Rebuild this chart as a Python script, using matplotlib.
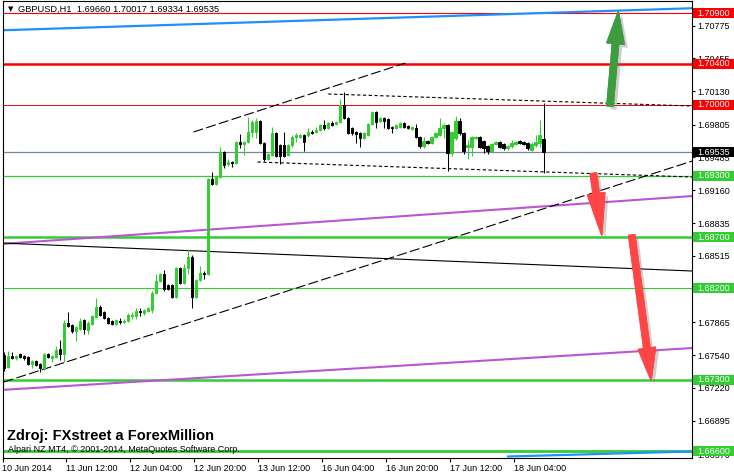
import matplotlib
matplotlib.use("Agg")
import matplotlib.pyplot as plt
import matplotlib.patheffects as pe
from matplotlib.patches import FancyArrowPatch, Rectangle
from matplotlib.transforms import blended_transform_factory
import numpy as np

plt.rcParams['font.family'] = ['Liberation Sans', 'DejaVu Sans']

# GBPUSD H1 candles, 10 Jun 20:00 .. 18 Jun 11:00
opens = [
    1.6754, 1.6742, 1.6753, 1.6751, 1.6755, 1.6753, 1.6752, 1.6745, 1.6748, 1.6745,
    1.6741, 1.6755, 1.6751, 1.6752, 1.6760, 1.6755, 1.6786, 1.6784, 1.6778, 1.6780,
    1.6789, 1.6779, 1.6785, 1.6792, 1.6801, 1.6796, 1.6791, 1.6788, 1.6785, 1.6788,
    1.6787, 1.6788, 1.6793, 1.6793, 1.6797, 1.6795, 1.6797, 1.6798, 1.6815, 1.6827,
    1.6834, 1.6823, 1.6823, 1.6811, 1.6840, 1.6825, 1.6840, 1.6850, 1.6811, 1.6828,
    1.6835, 1.6834, 1.6927, 1.6922, 1.6929, 1.6954, 1.6942, 1.6944, 1.6943, 1.6963,
    1.6961, 1.6963, 1.6973, 1.6973, 1.6984, 1.6962, 1.6947, 1.6951, 1.6972, 1.6960,
    1.6960, 1.6951, 1.6960, 1.6968, 1.6968, 1.6970, 1.6970, 1.6973, 1.6973, 1.6975,
    1.6980, 1.6977, 1.6982, 1.6981, 1.6983, 1.7000, 1.6987, 1.6977, 1.6973, 1.6972,
    1.6967, 1.6970, 1.6981, 1.6993, 1.6984, 1.6987, 1.6986, 1.6978, 1.6977, 1.6978,
    1.6982, 1.6979, 1.6976, 1.6977, 1.6968, 1.6959, 1.6964, 1.6962, 1.6968, 1.6970,
    1.6977, 1.6980, 1.6953, 1.6967, 1.6984, 1.6972, 1.6958, 1.6958, 1.6967, 1.6968,
    1.6964, 1.6959, 1.6955, 1.6961, 1.6963, 1.6961, 1.6957, 1.6959, 1.6961, 1.6964,
    1.6963, 1.6962, 1.6956, 1.6960, 1.6962, 1.69660,
]
highs = [
    1.6757, 1.6758, 1.6757, 1.6754, 1.6756, 1.6754, 1.6753, 1.6749, 1.6749, 1.6746,
    1.6756, 1.6756, 1.6754, 1.6763, 1.6769, 1.6789, 1.6796, 1.6785, 1.6783, 1.6791,
    1.6790, 1.6788, 1.6794, 1.6810, 1.6803, 1.6797, 1.6792, 1.6789, 1.6790, 1.6791,
    1.6790, 1.6795, 1.6796, 1.6800, 1.6800, 1.6799, 1.6801, 1.6817, 1.6834, 1.6835,
    1.6838, 1.6824, 1.6824, 1.6841, 1.6841, 1.6844, 1.6858, 1.6852, 1.6829, 1.6842,
    1.6837, 1.6928, 1.6934, 1.6931, 1.6958, 1.6955, 1.6947, 1.6945, 1.6964, 1.6971,
    1.6964, 1.6988, 1.6985, 1.6987, 1.6985, 1.6963, 1.6953, 1.6978, 1.6973, 1.6961,
    1.6973, 1.6961, 1.6970, 1.6972, 1.6971, 1.6971, 1.6977, 1.6975, 1.6978, 1.6981,
    1.6985, 1.6983, 1.6984, 1.6984, 1.7006, 1.7012, 1.6988, 1.6978, 1.6974, 1.6973,
    1.6973, 1.6982, 1.6994, 1.6994, 1.6988, 1.6988, 1.6987, 1.6979, 1.6981, 1.6983,
    1.6983, 1.6980, 1.6979, 1.6981, 1.6969, 1.6968, 1.6965, 1.6969, 1.6973, 1.6987,
    1.6982, 1.6981, 1.6974, 1.6989, 1.6987, 1.6973, 1.6965, 1.6969, 1.6969, 1.6969,
    1.6965, 1.6960, 1.6962, 1.6964, 1.6964, 1.6962, 1.6960, 1.6965, 1.6964, 1.6965,
    1.6964, 1.6963, 1.6963, 1.6970, 1.6985, 1.70017,
]
lows = [
    1.6739, 1.6741, 1.6750, 1.6749, 1.6751, 1.6749, 1.6744, 1.6741, 1.6743, 1.6738,
    1.6740, 1.6751, 1.6747, 1.6751, 1.6749, 1.6747, 1.6782, 1.6776, 1.6768, 1.6779,
    1.6775, 1.6775, 1.6784, 1.6791, 1.6793, 1.6790, 1.6785, 1.6784, 1.6784, 1.6785,
    1.6786, 1.6787, 1.6790, 1.6790, 1.6793, 1.6794, 1.6796, 1.6795, 1.6814, 1.6826,
    1.6817, 1.6818, 1.6810, 1.6810, 1.6824, 1.6824, 1.6834, 1.6800, 1.6810, 1.6827,
    1.6829, 1.6833, 1.6921, 1.6921, 1.6928, 1.6938, 1.6940, 1.6939, 1.6942, 1.6957,
    1.6951, 1.6962, 1.6968, 1.6967, 1.6961, 1.6945, 1.6946, 1.6950, 1.6949, 1.6942,
    1.6949, 1.6950, 1.6958, 1.6963, 1.6967, 1.6955, 1.6968, 1.6971, 1.6972, 1.6974,
    1.6975, 1.6976, 1.6979, 1.6980, 1.6982, 1.6986, 1.6971, 1.6970, 1.6962, 1.6958,
    1.6966, 1.6969, 1.6980, 1.6977, 1.6983, 1.6977, 1.6976, 1.6972, 1.6976, 1.6977,
    1.6977, 1.6976, 1.6975, 1.6967, 1.6957, 1.6957, 1.6961, 1.6961, 1.6967, 1.6969,
    1.6967, 1.6935, 1.6950, 1.6965, 1.6970, 1.6952, 1.6947, 1.6950, 1.6966, 1.6957,
    1.6953, 1.6952, 1.6954, 1.6960, 1.6957, 1.6956, 1.6956, 1.6957, 1.6960, 1.6961,
    1.6960, 1.6956, 1.6955, 1.6958, 1.6958, 1.69334,
]
closes = [
    1.6741, 1.6753, 1.6751, 1.6753, 1.6752, 1.6751, 1.6745, 1.6748, 1.6744, 1.6741,
    1.6755, 1.6752, 1.6753, 1.6759, 1.6755, 1.6786, 1.6783, 1.6778, 1.6782, 1.6788,
    1.6780, 1.6786, 1.6793, 1.6801, 1.6794, 1.6791, 1.6786, 1.6785, 1.6789, 1.6787,
    1.6788, 1.6794, 1.6794, 1.6797, 1.6796, 1.6798, 1.6800, 1.6815, 1.6827, 1.6834,
    1.6819, 1.6819, 1.6811, 1.6840, 1.6825, 1.6840, 1.6850, 1.6811, 1.6828, 1.6835,
    1.6834, 1.6927, 1.6922, 1.6930, 1.6954, 1.6941, 1.6944, 1.6943, 1.6963, 1.6961,
    1.6963, 1.6973, 1.6983, 1.6984, 1.6962, 1.6947, 1.6952, 1.6972, 1.6950, 1.6950,
    1.6950, 1.6960, 1.6968, 1.6970, 1.6970, 1.6963, 1.6973, 1.6972, 1.6975, 1.6980,
    1.6977, 1.6982, 1.6980, 1.6983, 1.7000, 1.6987, 1.6972, 1.6972, 1.6971, 1.6967,
    1.6972, 1.6981, 1.6993, 1.6983, 1.6987, 1.6984, 1.6977, 1.6977, 1.6980, 1.6982,
    1.6978, 1.6977, 1.6978, 1.6968, 1.6959, 1.6964, 1.6962, 1.6968, 1.6972, 1.6977,
    1.6980, 1.6953, 1.6973, 1.6984, 1.6972, 1.6955, 1.6960, 1.6968, 1.6968, 1.6958,
    1.6957, 1.6955, 1.6961, 1.6963, 1.6958, 1.6957, 1.6959, 1.6962, 1.6963, 1.6962,
    1.6961, 1.6957, 1.6961, 1.6963, 1.6970, 1.69535,
]

time_labels = ["10 Jun 2014", "11 Jun 12:00", "12 Jun 04:00", "12 Jun 20:00",
               "13 Jun 12:00", "16 Jun 04:00", "16 Jun 20:00", "17 Jun 12:00",
               "18 Jun 04:00"]
label_step = 16  # bars between time labels

price_ticks = [1.70775, 1.70455, 1.70130, 1.69805, 1.69485, 1.69160, 1.68835,
               1.68515, 1.68190, 1.67865, 1.67540, 1.67220, 1.66895, 1.66570]

red_levels = [1.70900, 1.70400, 1.70000]
green_levels = [1.69300, 1.68700, 1.68200, 1.67300, 1.66600]
bid = 1.69535

# trend lines: (bar indices, prices)
blue_top = ([-0.9, 172.2], [1.70730, 1.70947])
blue_bottom = ([126.1, 172.2], [1.66546, 1.66596])
purple_top = ([-0.9, 172.2], [1.68632, 1.69103])
purple_bottom = ([-0.9, 172.2], [1.67199, 1.67611])
black_line = ([-0.9, 172.2], [1.68642, 1.68367])
channel_low = ([-0.1, 172.2], [1.67277, 1.69447])
channel_high = ([47.4, 100.4], [1.69732, 1.70409])
range_high = ([81.1, 172.2], [1.70105, 1.69987])
range_low = ([63.4, 172.2], [1.69437, 1.69290])

# arrows: tail (bar, price), head (bar, price)
arrow_up = ((151.6, 1.69987), (153.7, 1.70913))
arrow_down1 = ((147.45, 1.69326), (149.55, 1.68720))
arrow_down2 = ((157.05, 1.68720), (161.9, 1.67297))

W, H = 734, 475
LIME = '#32CD32'
fig = plt.figure(figsize=(W / 100, H / 100), dpi=100)
ax = fig.add_axes([2.5 / W, 17 / H, 689.5 / W, 457 / H])
ax.set_xlim(-0.25, 172.125)
ax.set_ylim(1.665313, 1.71018)

# levels
for lv, lw in zip(red_levels, [0.8, 1.8, 0.7]):
    ax.axhline(lv, color='red', lw=lw, zorder=2)
for lv, lw in zip(green_levels, [0.9, 1.8, 0.8, 1.8, 2.0]):
    ax.axhline(lv, color=LIME, lw=lw, zorder=2)
ax.axhline(bid, color='#778899', lw=0.9, zorder=2)

ax.plot(*blue_top, color='#1E90FF', lw=1.6, zorder=2)
ax.plot(*blue_bottom, color='#1E90FF', lw=1.6, zorder=2)
ax.plot(*purple_top, color='#BA55D3', lw=1.5, zorder=2)
ax.plot(*purple_bottom, color='#BA55D3', lw=1.5, zorder=2)
ax.plot(*black_line, color='black', lw=0.8, zorder=2)
for ln in (channel_low, channel_high):
    ax.plot(*ln, color='black', lw=0.8, dashes=(9, 3), zorder=2)
for ln in (range_high, range_low):
    ax.plot(*ln, color='black', lw=0.8, dashes=(3, 2.2), zorder=2)

# candles
o, h, l, c = (np.array(a) for a in (opens, highs, lows, closes))
x = np.arange(len(o))
col = np.where(c >= o, LIME, 'black')
ax.vlines(x, l, h, colors=col, lw=0.75, zorder=3)
ax.bar(x, np.abs(c - o), bottom=np.minimum(o, c), width=0.62,
       color=col, edgecolor=col, lw=0.7, zorder=4)

# arrows
for (tail, head), colr, hl in [(arrow_up, '#3E9B3E', 23),
                               (arrow_down1, '#FF4545', 30),
                               (arrow_down2, '#FF4545', 23)]:
    ar = FancyArrowPatch(tail, head,
                         arrowstyle=f"simple,head_length={hl},head_width=12.5,tail_width=4.5",
                         color=colr, shrinkA=0, shrinkB=0, zorder=6,
                         path_effects=[pe.withSimplePatchShadow(offset=(2.5, -2.5),
                                                                shadow_rgbFace='0.45',
                                                                alpha=0.35),
                                       pe.Normal()])
    ax.add_patch(ar)

# axes
for s in ax.spines.values():
    s.set_linewidth(0.8)
ax.yaxis.tick_right()
ax.set_yticks(price_ticks)
ax.set_yticklabels([f"{v:.5f}" for v in price_ticks], fontsize=6.5)
ax.tick_params(axis='y', length=2.5, width=0.8, pad=1.5)
ax.set_xticks(np.arange(len(time_labels)) * label_step - 0.4)
ax.set_xticklabels(time_labels, fontsize=6.5, ha='left')
ax.tick_params(axis='x', length=3, width=0.8, pad=1)

# price labels on the scale
tr = blended_transform_factory(ax.transAxes, ax.transData)
tags = [(p, 'red') for p in red_levels] + [(bid, 'black')] + [(p, LIME) for p in green_levels]
for p, fc in tags:
    ax.add_patch(Rectangle((1.0015, p - 0.00049), 0.062, 0.00098, transform=tr,
                           facecolor=fc, edgecolor='none', clip_on=False, zorder=10))
    ax.text(1.008, p, f"{p:.5f}", transform=tr, color='white', fontsize=6.5,
            va='center', ha='left', clip_on=False, zorder=11)

# header and captions
fig.text(8 / W, 1 - 9.5 / H, "\u25BC", family='DejaVu Sans', fontsize=5, va='center')
fig.text(18 / W, 1 - 9.5 / H,
         f"GBPUSD,H1  {opens[-1]:.5f} {highs[-1]:.5f} {lows[-1]:.5f} {closes[-1]:.5f}",
         fontsize=6.7, va='center')
fig.text(7 / W, 1 - 436 / H, "Zdroj: FXstreet a ForexMillion", fontsize=10.5,
         weight='bold', va='center')
fig.text(8 / W, 1 - 450 / H, "Alpari NZ MT4, \u00a9 2001-2014, MetaQuotes Software Corp.",
         fontsize=6.5, va='center')

fig.savefig("out.png", dpi=100)
